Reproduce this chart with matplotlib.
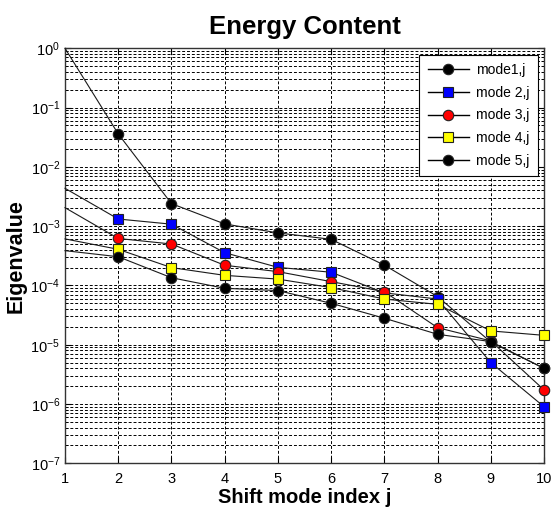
import matplotlib
matplotlib.use("Agg")
import matplotlib.pyplot as plt
from matplotlib.lines import Line2D
from matplotlib.ticker import LogLocator, FixedLocator, NullFormatter

plt.rcParams['font.family'] = ['Liberation Sans', 'DejaVu Sans']
plt.rcParams['mathtext.default'] = 'regular'

j = [1, 2, 3, 4, 5, 6, 7, 8, 9, 10]
mode1 = [1.0, 3.6e-2, 2.4e-3, 1.09e-3, 7.7e-4, 6.0e-4, 2.2e-4, 6.5e-5, 1.11e-5, 4.0e-6]
mode2 = [4.35e-3, 1.32e-3, 1.08e-3, 3.57e-4, 2.02e-4, 1.67e-4, 7.5e-5, 5.9e-5, 5.0e-6, 9.0e-7]
mode3 = [2.05e-3, 6.2e-4, 5.0e-4, 2.19e-4, 1.71e-4, 1.16e-4, 7.85e-5, 1.94e-5, 1.16e-5, 1.73e-6]
mode4 = [6.1e-4, 4.07e-4, 2.0e-4, 1.48e-4, 1.28e-4, 9.2e-5, 5.9e-5, 4.8e-5, 1.71e-5, 1.44e-5]
mode5 = [3.86e-4, 3.05e-4, 1.35e-4, 8.95e-5, 8.2e-5, 5.0e-5, 2.8e-5, 1.5e-5, 1.13e-5, 4.0e-6]
labels = ['mode1,j', 'mode 2,j', 'mode 3,j', 'mode 4,j', 'mode 5,j']

series = [mode1, mode2, mode3, mode4, mode5]
markers = ['o', 's', 'o', 's', 'o']
faces = ['black', '#0000ff', '#ff0000', '#ffff00', 'black']

fig = plt.figure(figsize=(5.51, 5.15), dpi=100)
ax = fig.add_axes([65/551, 1-463.3/515, (544-65)/551, (463.3-48.3)/515])

handles = []
for ys, m, fc, lab in zip(series, markers, faces, labels):
    ax.plot(j, ys, color='#1a1a1a', lw=0.8, marker=m, markersize=7.5 if m == 'o' else 7,
            markerfacecolor=fc, markeredgecolor='#222222', markeredgewidth=0.8,
            markevery=list(range(1, len(j))), clip_on=False, zorder=3)
    handles.append(Line2D([0], [0], color='black', lw=1.0, marker=m,
                          markersize=7.5 if m == 'o' else 7, markerfacecolor=fc,
                          markeredgecolor='#222222', markeredgewidth=0.8))

ax.set_yscale('log')
ax.set_xlim(1, 10)
ax.set_ylim(1e-7, 1e0)
ax.xaxis.set_major_locator(FixedLocator(j))
ax.yaxis.set_major_locator(LogLocator(base=10, numticks=20))
ax.yaxis.set_minor_locator(LogLocator(base=10, subs=range(2, 10), numticks=20))
ax.yaxis.set_minor_formatter(NullFormatter())

dash = (0, (3, 2))
ax.grid(True, which='major', axis='both', color='black', lw=0.7, linestyle=dash)
ax.grid(True, which='minor', axis='y', color='black', lw=0.7, linestyle=dash)
ax.set_axisbelow(True)

ax.tick_params(which='both', direction='in', top=True, right=True, labelsize=10.5,
               colors='black')
ax.tick_params(which='major', length=4)
ax.tick_params(axis='x', which='major', pad=6)
ax.tick_params(which='minor', length=2)
for s in ax.spines.values():
    s.set_linewidth(1.0)
    s.set_color('#333333')

ax.set_title('Energy Content', fontsize=18.5, fontweight='bold', pad=10)
ax.set_xlabel('Shift mode index j', fontsize=14.5, fontweight='bold', labelpad=2)
ax.set_ylabel('Eigenvalue', fontsize=15.5, fontweight='bold', labelpad=3)

leg = ax.legend(handles, labels, loc='upper right', bbox_to_anchor=(0.9875, 0.984),
                borderaxespad=0, fontsize=10, handlelength=3.0, labelspacing=0.62,
                fancybox=False, framealpha=1, edgecolor='black', borderpad=0.6,
                handletextpad=0.5)
leg.get_frame().set_linewidth(0.8)

fig.savefig('out.png', dpi=100)
